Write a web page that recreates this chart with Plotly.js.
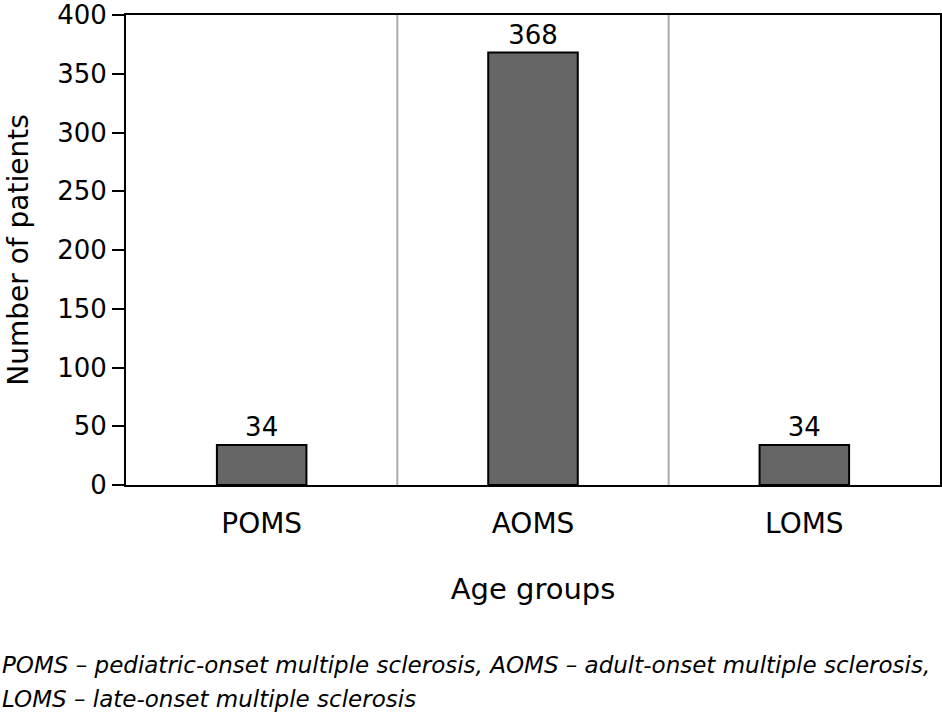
<!DOCTYPE html>
<html>
<head>
<meta charset="utf-8">
<script src="https://cdn.plot.ly/plotly-3.0.1.min.js"></script>
<style>html,body{margin:0;padding:0;background:#fff;}#chart{width:942px;height:715px;}</style>
</head>
<body>
<div id="chart"></div>
<script>
const categories = ["POMS", "AOMS", "LOMS"];
const patients = [34, 368, 34];
const yTickVals = [0, 50, 100, 150, 200, 250, 300, 350, 400];
const xTitle = "Age groups";
const yTitle = "Number of patients";
const footnoteLines = [
  "POMS – pediatric-onset multiple sclerosis, AOMS – adult-onset multiple sclerosis,",
  "LOMS – late-onset multiple sclerosis"
];

const FONT = "DejaVu Sans, sans-serif";

const trace = {
  type: "bar",
  x: categories,
  y: patients,
  width: 0.33,
  text: patients.map(String),
  textposition: "outside",
  cliponaxis: false,
  textfont: {family: FONT, size: 26, color: "#000"},
  marker: {color: "#666666", line: {color: "#000", width: 2}},
  hoverinfo: "none"
};

const separators = [0.5, 1.5].map(v => ({
  type: "line", xref: "x", yref: "paper", x0: v, x1: v, y0: 0, y1: 1,
  line: {color: "#aaaaaa", width: 2}, layer: "below"
}));

const layout = {
  width: 942, height: 715,
  margin: {l: 126, r: 2, t: 15, b: 230},
  paper_bgcolor: "#fff", plot_bgcolor: "#fff",
  showlegend: false,
  font: {family: FONT, color: "#000", size: 26},
  xaxis: {
    type: "category",
    range: [-0.5, 2.5],
    showline: true, linecolor: "#000", linewidth: 2, mirror: true,
    ticks: "", showgrid: false, zeroline: false,
    tickfont: {family: FONT, size: 28, color: "#000"},
    ticklabelstandoff: 12,
    title: {text: xTitle, font: {family: FONT, size: 29, color: "#000"}, standoff: 40}
  },
  yaxis: {
    range: [0, 400],
    tickvals: yTickVals,
    ticklabeloverflow: "allow",
    showline: true, linecolor: "#000", linewidth: 2, mirror: true,
    ticks: "outside", ticklen: 12, tickwidth: 2, tickcolor: "#000",
    showgrid: false, zeroline: false,
    tickfont: {family: FONT, size: 26, color: "#000"},
    title: {text: yTitle, font: {family: FONT, size: 28, color: "#000"}, standoff: 20}
  },
  shapes: separators,
  annotations: footnoteLines.map((t, i) => ({
    text: "<i>" + t + "</i>", xref: "paper", yref: "paper",
    x: 0, y: 0, xanchor: "left", yanchor: "middle",
    xshift: -126, yshift: -(180 + i * 34),
    showarrow: false, align: "left",
    font: {family: FONT, size: 23, color: "#000"}
  }))
};

Plotly.newPlot("chart", [trace], layout, {displayModeBar: false, staticPlot: true});
</script>
</body>
</html>
